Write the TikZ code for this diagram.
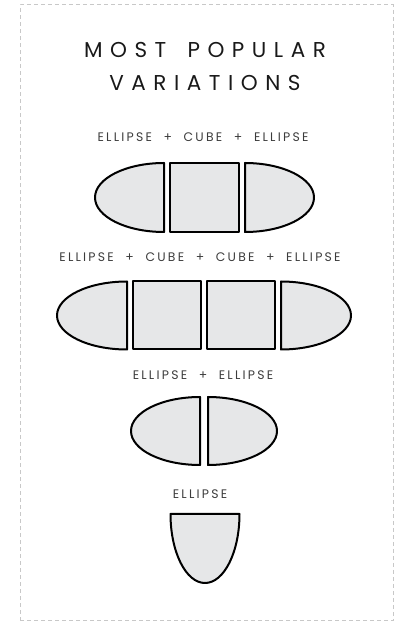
\documentclass[tikz,border=0pt]{standalone}
\usepackage{fontspec}
\setmainfont{Poppins}
\newfontfamily\titlefont[LetterSpace=35,WordSpace=1.6]{Poppins}
\newfontfamily\labelfont[LetterSpace=18,WordSpace=2.1]{Poppins}
\usepackage{tikz}
\usetikzlibrary{positioning,calc}
\definecolor{piecegray}{HTML}{E6E7E8}
\definecolor{framegray}{HTML}{C8C8C8}
\definecolor{inkgray}{HTML}{3C3C3C}
% half ellipse with flat side on the right / left (flat x, centre y, rx, ry)
\newcommand{\leftend}[4]{\draw[piece] (#1,#2-#4) arc (270:90:#3 and #4) -- cycle;}
\newcommand{\rightend}[4]{\draw[piece] (#1,#2+#4) arc (90:-90:#3 and #4) -- cycle;}
\newcommand{\cube}[3]{\draw[piece] (#1,#2-#3) rectangle ++(2*#3,2*#3);}

\begin{document}
\begin{tikzpicture}[
    x=1pt, y=1pt,
    piece/.style={draw=black, line width=2pt, fill=piecegray, line join=round},
    caption/.style={font=\labelfont\fontsize{12.4}{14}\selectfont, text=inkgray},
    heading/.style={font=\titlefont\fontsize{21.5}{25}\selectfont, text=black!90},
  ]
  \useasboundingbox (0,0) rectangle (401,622);

  % Frame
  \draw[framegray, line width=1pt, dash pattern=on 4pt off 3pt]
    (20,1) rectangle (393,617);

  % Title
  \node[heading] (title1) at (205,572) {MOST POPULAR};
  \node[heading] (title2) at (205,539) {VARIATIONS};

  % Ellipse + cube + ellipse
  \node[caption] (cap1) at (203,485) {ELLIPSE + CUBE + ELLIPSE};
  \leftend{164}{424.5}{69}{34.5}
  \cube{170}{424.5}{34.5}
  \rightend{245}{424.5}{69}{34.5}

  % Ellipse + cube + cube + ellipse
  \node[caption] (cap2) at (200,365) {ELLIPSE + CUBE + CUBE + ELLIPSE};
  \leftend{127}{306.5}{70}{34}
  \foreach \x in {133,207} {
    \cube{\x}{306.5}{34}
  }
  \rightend{281}{306.5}{70}{34}

  % Ellipse + ellipse
  \node[caption] (cap3) at (203,247) {ELLIPSE + ELLIPSE};
  \leftend{200}{191}{69}{34}
  \rightend{208}{191}{69}{34}

  % Ellipse
  \node[caption] (cap4) at (200,128) {ELLIPSE};
  \draw[piece] (170.5,108) arc (180:360:34.5 and 69) -- cycle;

\end{tikzpicture}
\end{document}
